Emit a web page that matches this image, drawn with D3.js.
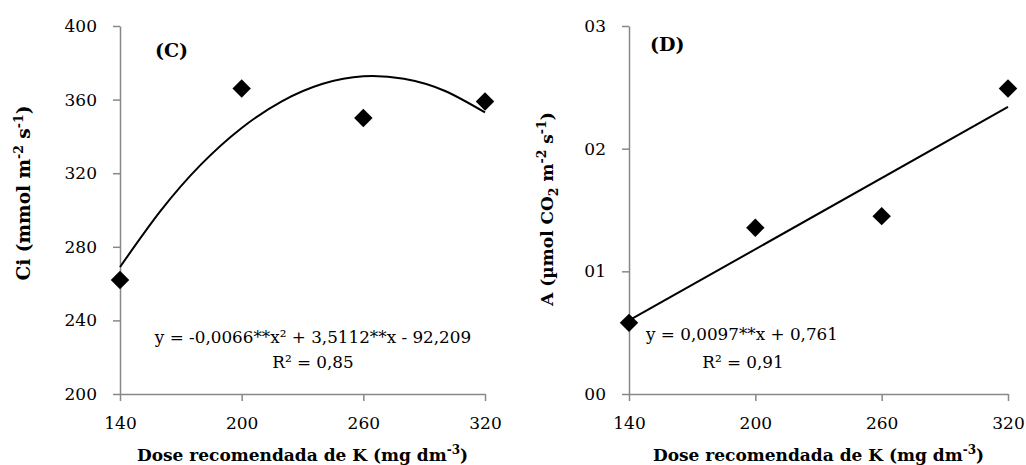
<!DOCTYPE html>
<html>
<head>
<meta charset="utf-8">
<script src="https://cdnjs.cloudflare.com/ajax/libs/d3/7.8.5/d3.min.js"></script>
<style>
  body { margin:0; background:#fff; }
  svg text { font-family:"DejaVu Serif", serif; fill:#000; }
  .axis path, .axis line { stroke:#888; stroke-width:1.5; }
  .axis text { font-size:17px; }
  .title { font-weight:bold; font-size:17px; }
</style>
</head>
<body>
<svg id="chart" width="1026" height="465"></svg>
<script>
// data
var doses=[140,200,260,320];
var doseTicks=[140,200,260,320];

var ciValues=[262,366,350,359];
var ciTicks=[200,240,280,320,360,400];
var ciCurveX=[140,160,180,200,220,240,260,280,300,320];
var ciCurveY=[269,299.5,324.8,344.6,359.2,368.6,372.7,371.3,364.8,353];

var aValues=[0.58,1.355,1.45,2.49];
var aTicks=[0,1,2,3];
var aTickLabels=["00","01","02","03"];
var aLineX=[140,320];
var aLineY=[0.60,2.34];

var svg=d3.select("#chart");

function panel(o) {
    var x=d3.scaleLinear().domain([140,320]).range([o.left,o.right]);
    var y=d3.scaleLinear().domain(o.domain).range([394,26]);
    var g=svg.append("g");

    g.append("g")
        .attr("class","axis")
        .attr("transform","translate(0,394)")
        .call(d3.axisBottom(x).tickValues(doseTicks).tickSize(7).tickSizeOuter(0).tickPadding(16))
        .call(function(s) { s.selectAll("text").attr("fill","#000"); });

    g.append("g")
        .attr("class","axis")
        .attr("transform","translate("+o.left+",0)")
        .call(d3.axisLeft(y).tickValues(o.ticks).tickSize(7).tickSizeOuter(0).tickPadding(16)
            .tickFormat(o.fmt))
        .call(function(s) { s.selectAll("text").attr("fill","#000"); });

    var line=d3.line()
        .x(function(d) { return x(d[0]); })
        .y(function(d) { return y(d[1]); })
        .curve(d3.curveNatural);
    g.append("path")
        .datum(d3.zip(o.lineX,o.lineY))
        .attr("d",line)
        .attr("fill","none")
        .attr("stroke","#000")
        .attr("stroke-width",2);

    g.selectAll(".pt")
        .data(d3.zip(doses,o.values))
        .enter()
        .append("path")
        .attr("class","pt")
        .attr("d",d3.symbol().type(d3.symbolSquare).size(170))
        .attr("transform",function(d) {
            return "translate("+x(d[0])+","+y(d[1])+") rotate(45)"; })
        .attr("fill","#000");

    // panel letter
    g.append("text")
        .attr("class","title")
        .style("font-size","19px")
        .attr("x",o.letterX).attr("y",o.letterY)
        .text(o.letter);

    // x title
    var xt=g.append("text")
        .attr("class","title")
        .attr("x",(o.left+o.right)/2).attr("y",461)
        .attr("text-anchor","middle");
    xt.append("tspan").text("Dose recomendada de K (mg dm");
    xt.append("tspan").attr("font-size","12px").attr("dy",-7).text("-3");
    xt.append("tspan").attr("dy",7).text(")");

    // y title: [text, dy, small]
    var yt=g.append("text")
        .attr("class","title")
        .style("font-size",o.ytSize)
        .attr("transform","translate("+o.ytX+","+o.ytY+") rotate(-90)")
        .attr("text-anchor","middle");
    o.ytParts.forEach(function(p) {
        var t=yt.append("tspan").text(p[0]).attr("dy",p[1]);
        if (p[2]) { t.attr("font-size","12.5px"); }
        });

    // equation
    o.eq.forEach(function(e) {
        g.append("text")
            .attr("x",e[1]).attr("y",e[2])
            .attr("text-anchor","middle")
            .attr("font-size","16.8px")
            .text(e[0]);
        });
    }

panel({left:120,right:485,domain:[200,400],ticks:ciTicks,fmt:d3.format("d"),
    values:ciValues,lineX:ciCurveX,lineY:ciCurveY,
    letter:"(C)",letterX:155,letterY:57,
    ytX:30,ytY:193,ytSize:"18.5px",
    ytParts:[["Ci (mmol m",0,0],["-2",-7,1],[" s",7,0],["-1",-7,1],[")",7,0]],
    eq:[["y = -0,0066**x² + 3,5112**x - 92,209",313,343],["R² = 0,85",313,368]]});

panel({left:629,right:1008,domain:[0,3],ticks:aTicks,
    fmt:function(d,i) { return aTickLabels[i]; },
    values:aValues,lineX:aLineX,lineY:aLineY,
    letter:"(D)",letterX:650,letterY:51,
    ytX:553,ytY:209,ytSize:"17px",
    ytParts:[["A (µmol CO",0,0],["2",5,1],[" m",-5,0],["-2",-7,1],[" s",7,0],["-1",-7,1],[")",7,0]],
    eq:[["y = 0,0097**x + 0,761",742,340],["R² = 0,91",743,368]]});
</script>
</body>
</html>
